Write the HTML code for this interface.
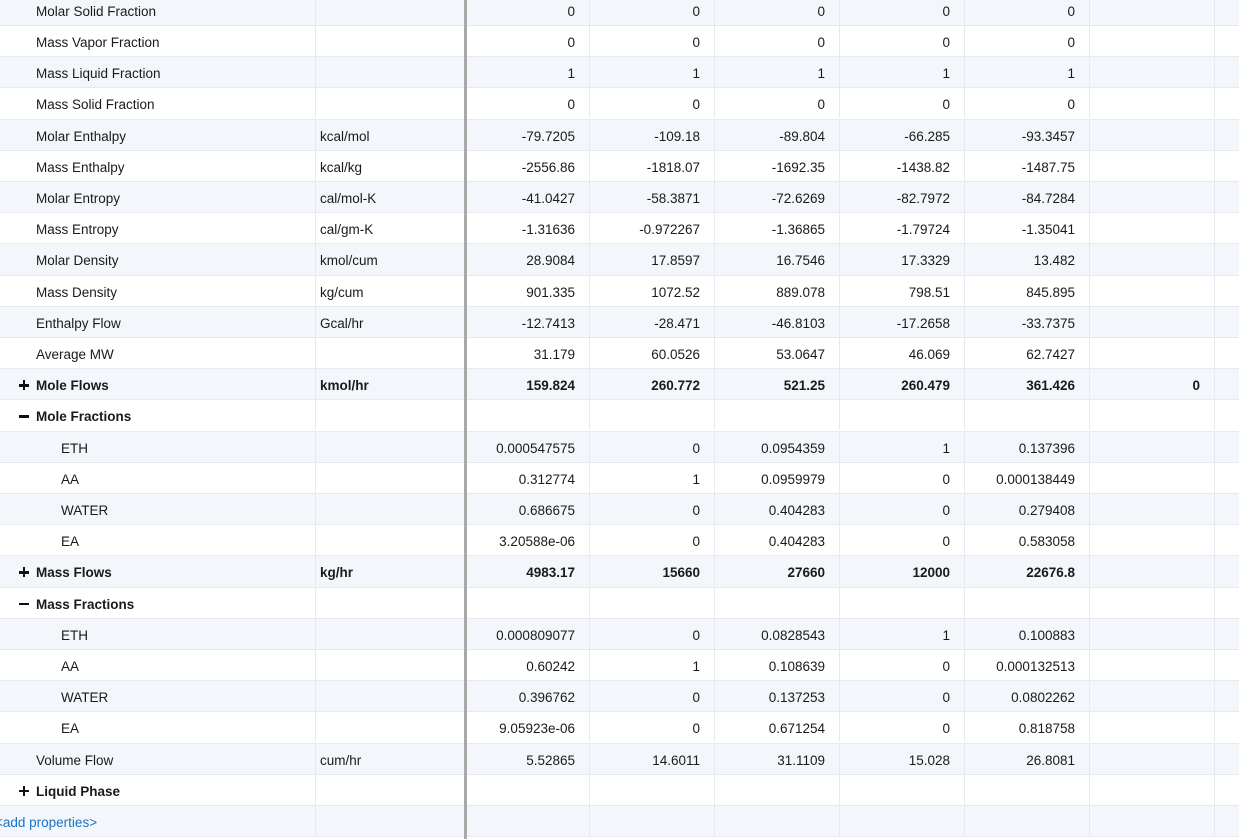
<!DOCTYPE html>
<html><head><meta charset="utf-8">
<style>
html,body{margin:0;padding:0;width:1239px;height:839px;overflow:hidden;background:#fff;font-family:"Liberation Sans","DejaVu Sans",sans-serif;font-size:13.5px;color:#1a1a1a}
#grid{position:absolute;left:0;top:0;width:1239px;height:839px}
.row{position:absolute;left:0;width:1239px;height:31.2px;box-sizing:border-box;border-bottom:1px solid #e6eaee}
.row.alt{background:#f3f7fb}
.cell{position:absolute;top:0;height:30px;line-height:33px;box-sizing:border-box;border-right:1px solid #e6eaee;white-space:nowrap;overflow:hidden}
.num{text-align:right;padding-right:14px}
.b{font-weight:bold}
.sep{position:absolute;left:464px;top:0;width:2.5px;height:839px;background:#a9a9a9}
.link{color:#1a73c8}
.ico{display:inline-block;width:17px;position:relative;height:10px}
.ico .h{position:absolute;left:0;top:4px;width:10px;height:2.5px;background:#111}
.ico .v{position:absolute;left:3.75px;top:0;width:2.5px;height:10px;background:#111}
</style></head><body>
<div id="grid"></div>
<div class="sep"></div>
<script>
const names=["Molar Solid Fraction","Mass Vapor Fraction","Mass Liquid Fraction","Mass Solid Fraction","Molar Enthalpy","Mass Enthalpy","Molar Entropy","Mass Entropy","Molar Density","Mass Density","Enthalpy Flow","Average MW","+Mole Flows","-Mole Fractions",">ETH",">AA",">WATER",">EA","+Mass Flows","-Mass Fractions",">ETH",">AA",">WATER",">EA","Volume Flow","+Liquid Phase","<add properties>"];
const units=["","","","","kcal/mol","kcal/kg","cal/mol-K","cal/gm-K","kmol/cum","kg/cum","Gcal/hr","","kmol/hr","","","","","","kg/hr","","","","","","cum/hr","",""];
const vals=[
["0","0","0","0","0",""],["0","0","0","0","0",""],["1","1","1","1","1",""],["0","0","0","0","0",""],
["-79.7205","-109.18","-89.804","-66.285","-93.3457",""],
["-2556.86","-1818.07","-1692.35","-1438.82","-1487.75",""],
["-41.0427","-58.3871","-72.6269","-82.7972","-84.7284",""],
["-1.31636","-0.972267","-1.36865","-1.79724","-1.35041",""],
["28.9084","17.8597","16.7546","17.3329","13.482",""],
["901.335","1072.52","889.078","798.51","845.895",""],
["-12.7413","-28.471","-46.8103","-17.2658","-33.7375",""],
["31.179","60.0526","53.0647","46.069","62.7427",""],
["159.824","260.772","521.25","260.479","361.426","0"],
["","","","","",""],
["0.000547575","0","0.0954359","1","0.137396",""],
["0.312774","1","0.0959979","0","0.000138449",""],
["0.686675","0","0.404283","0","0.279408",""],
["3.20588e-06","0","0.404283","0","0.583058",""],
["4983.17","15660","27660","12000","22676.8",""],
["","","","","",""],
["0.000809077","0","0.0828543","1","0.100883",""],
["0.60242","1","0.108639","0","0.000132513",""],
["0.396762","0","0.137253","0","0.0802262",""],
["9.05923e-06","0","0.671254","0","0.818758",""],
["5.52865","14.6011","31.1109","15.028","26.8081",""],
["","","","","",""],["","","","","",""]];
const colL=[467,590,715,840,965,1090], colW=125;
const g=document.getElementById('grid');
names.forEach((n,i)=>{
  const r=document.createElement('div');
  r.className='row'+(i%2==0?' alt':'');
  r.style.top=(-5.2+i*31.2)+'px';
  
  
  const c0=document.createElement('div');
  c0.className='cell';c0.style.left='0px';c0.style.width='316px';
  
  
  let bold=false;
  if(n[0]=='+'||n[0]=='-'){bold=true;c0.style.paddingLeft='19px';c0.innerHTML='<span class="ico"><span class="h"></span>'+(n[0]=='+'?'<span class="v"></span>':'')+'</span>'+n.slice(1);}
  else if(n[0]=='>'){c0.style.paddingLeft='61px';c0.textContent=n.slice(1);}
  else if(n[0]=='<'){c0.style.paddingLeft='0px';c0.style.textIndent='-5px';c0.className+=' link';c0.textContent=n;}
  else{c0.style.paddingLeft='36px';c0.textContent=n;}
  if(bold)c0.className+=' b';
  r.appendChild(c0);
  const c1=document.createElement('div');
  c1.className='cell'+(bold?' b':'');c1.style.left='316px';c1.style.width='149px';c1.style.paddingLeft='4px';
  c1.textContent=units[i];
  
  
  r.appendChild(c1);
  colL.forEach((x,j)=>{
    const c=document.createElement('div');
    c.className='cell num'+(bold?' b':'');c.style.left=x+'px';c.style.width=(x==467?123:colW)+'px';
    c.textContent=vals[i][j];
    
    
    r.appendChild(c);
  });
  g.appendChild(r);
});
</script>
</body></html>
